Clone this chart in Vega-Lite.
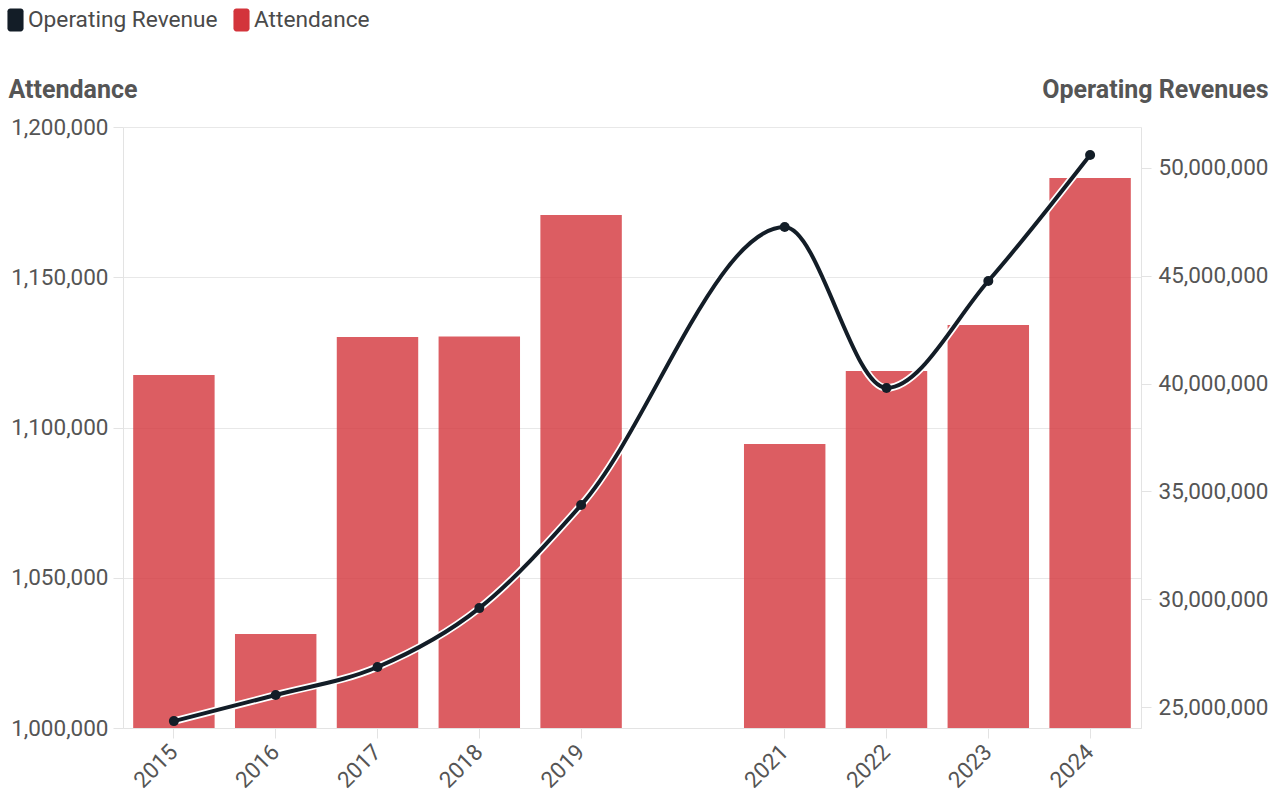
{
  "$schema": "https://vega.github.io/schema/vega-lite/v6.json",
  "autosize": {"type": "none"},
  "padding": {"left": 123, "top": 127, "right": 140, "bottom": 68},
  "width": 1018,
  "height": 601,
  "background": "white",
  "config": {
    "font": "Roboto",
    "view": {"stroke": null},
    "axis": {"labelFont": "Roboto", "titleFont": "Roboto", "labelColor": "#555555", "titleColor": "#555555", "domainColor": "#e3e3e3", "tickColor": "#e3e3e3", "gridColor": "#e8e8e8", "labelFontSize": 22.5, "titleFontSize": 25, "titleFontWeight": "bold", "tickSize": 10}
  },
  "data": {"values": [
    {"year": "2015", "attendance": 1117470, "revenue": 24350000},
    {"year": "2016", "attendance": 1031280, "revenue": 25560000},
    {"year": "2017", "attendance": 1130120, "revenue": 26860000},
    {"year": "2018", "attendance": 1130300, "revenue": 29590000},
    {"year": "2019", "attendance": 1170720, "revenue": 34370000},
    {"year": "2021", "attendance": 1094510, "revenue": 47260000},
    {"year": "2022", "attendance": 1118800, "revenue": 39800000},
    {"year": "2023", "attendance": 1134100, "revenue": 44760000},
    {"year": "2024", "attendance": 1183030, "revenue": 50600000}
  ]},
  "encoding": {
    "x": {"field": "year", "type": "ordinal",
      "scale": {"domain": ["2015","2016","2017","2018","2019","2020","2021","2022","2023","2024"], "paddingInner": 0.2, "paddingOuter": 0.1},
      "axis": {"title": null, "values": ["2015","2016","2017","2018","2019","2021","2022","2023","2024"], "labelAngle": -45, "labelAlign": "right", "labelBaseline": "middle", "labelPadding": 10, "domain": true, "grid": false}}
  },
  "layer": [
    {
      "mark": {"type": "bar", "opacity": 0.8},
      "encoding": {
        "y": {"field": "attendance", "type": "quantitative",
          "scale": {"domain": [1000000, 1200000], "nice": false, "zero": false},
          "axis": {"title": "Attendance", "format": ",.0f", "values": [1000000, 1050000, 1100000, 1150000, 1200000], "grid": true, "domain": true, "labelPadding": 5, "titleAngle": 0, "titleX": -115, "titleY": -30, "titleAlign": "left", "titleBaseline": "alphabetic"}},
        "y2": {"datum": 1000000},
        "color": {"datum": "Attendance", "type": "nominal",
          "scale": {"domain": ["Operating Revenue", "Attendance"], "range": ["#131d27", "#d3343b"]},
          "legend": {"title": null, "orient": "none", "legendX": -119, "legendY": -119, "direction": "horizontal", "labelFontSize": 22.7, "labelColor": "#4a4a4a", "labelFont": "Roboto", "labelLimit": 0, "symbolType": "M-0.45,-1 L0.45,-1 A0.25,0.25 0 0 1 0.7,-0.75 L0.7,0.75 A0.25,0.25 0 0 1 0.45,1 L-0.45,1 A0.25,0.25 0 0 1 -0.7,0.75 L-0.7,-0.75 A0.25,0.25 0 0 1 -0.45,-1 Z", "symbolSize": 529, "symbolStrokeWidth": 0, "symbolOpacity": 1, "labelOffset": 1, "columnPadding": 12,
            "encode": {"symbols": {"update": {"fill": {"scale": "color", "field": "value"}, "stroke": {"value": "transparent"}, "opacity": {"value": 1}}}}}}
      }
    },
    {
      "encoding": {
        "y": {"field": "revenue", "type": "quantitative",
          "scale": {"domain": [24030000, 51900000], "nice": false, "zero": false},
          "axis": {"orient": "right", "title": "Operating Revenues", "format": ",.0f", "values": [25000000, 30000000, 35000000, 40000000, 45000000, 50000000], "grid": false, "domain": true, "labelPadding": 7, "titleAngle": 0, "titleX": 127, "titleY": -30, "titleAlign": "right", "titleBaseline": "alphabetic"}}
      },
      "layer": [
        {"mark": {"type": "line", "interpolate": "monotone", "stroke": "white", "strokeWidth": 7.5}},
        {"mark": {"type": "line", "interpolate": "monotone", "strokeWidth": 4},
          "encoding": {"color": {"datum": "Operating Revenue", "type": "nominal"}}},
        {"mark": {"type": "point", "filled": true, "size": 100, "opacity": 1},
          "encoding": {"color": {"datum": "Operating Revenue", "type": "nominal"}}}
      ]
    }
  ],
  "resolve": {"scale": {"y": "independent"}}
}
